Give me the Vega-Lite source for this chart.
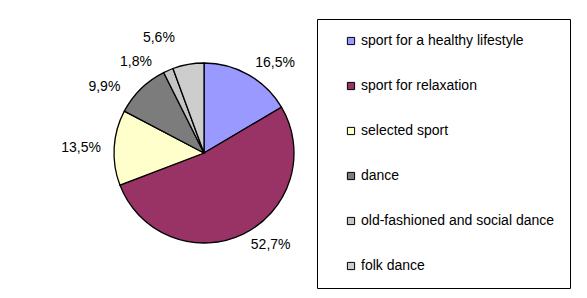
{
  "$schema": "https://vega.github.io/schema/vega-lite/v6.json",
  "width": 408,
  "height": 290,
  "padding": {"left": 0, "top": 8, "right": 0, "bottom": 0},
  "autosize": {"type": "pad"},
  "background": "white",
  "data": {
    "values": [
      {"idx": 1, "cat": "sport for a healthy lifestyle", "share": 16.5, "label": "16,5%"},
      {"idx": 2, "cat": "sport for relaxation", "share": 52.7, "label": "52,7%"},
      {"idx": 3, "cat": "selected sport", "share": 13.5, "label": "13,5%"},
      {"idx": 4, "cat": "dance", "share": 9.9, "label": "9,9%"},
      {"idx": 5, "cat": "old-fashioned and social dance", "share": 1.8, "label": "1,8%"},
      {"idx": 6, "cat": "folk dance", "share": 5.6, "label": "5,6%"}
    ]
  },
  "encoding": {
    "theta": {"field": "share", "type": "quantitative", "stack": true},
    "order": {"field": "idx", "type": "ordinal"}
  },
  "layer": [
    {
      "mark": {"type": "arc", "outerRadius": 90, "stroke": "black", "strokeWidth": 1.3},
      "encoding": {
        "color": {
          "field": "cat", "type": "nominal",
          "scale": {
            "domain": ["sport for a healthy lifestyle", "sport for relaxation", "selected sport", "dance", "old-fashioned and social dance", "folk dance"],
            "range": ["#9999FF", "#993366", "#FFFFCC", "#7c7c7c", "#c4c4c4", "#cdcdcd"]
          },
          "sort": null,
          "legend": {
            "orient": "none", "legendX": 317, "legendY": 11, "title": null,
            "strokeColor": "black", "fillColor": "white", "padding": 15,
            "rowPadding": 31, "symbolType": "square", "symbolSize": 52,
            "symbolOffset": 12,
            "symbolStrokeColor": "black", "symbolStrokeWidth": 1,
            "labelFontSize": 14, "labelFont": "Liberation Sans", "labelColor": "black",
            "labelOffset": 3, "labelLimit": 400
          }
        }
      }
    },
    {
      "mark": {"type": "text", "radius": 114.6, "thetaOffset": 0.15, "font": "Liberation Sans", "fontSize": 14, "color": "black", "align": "center", "baseline": "middle"},
      "encoding": {"text": {"condition": {"test": "datum.idx == 1", "field": "label"}, "value": ""}}
    },
    {
      "mark": {"type": "text", "radius": 113.6, "thetaOffset": -0.178, "font": "Liberation Sans", "fontSize": 14, "color": "black", "align": "center", "baseline": "middle"},
      "encoding": {"text": {"condition": {"test": "datum.idx == 2", "field": "label"}, "value": ""}}
    },
    {
      "mark": {"type": "text", "radius": 123, "thetaOffset": -0.016, "font": "Liberation Sans", "fontSize": 14, "color": "black", "align": "center", "baseline": "middle"},
      "encoding": {"text": {"condition": {"test": "datum.idx == 3", "field": "label"}, "value": ""}}
    },
    {
      "mark": {"type": "text", "radius": 119.4, "thetaOffset": -0.211, "font": "Liberation Sans", "fontSize": 14, "color": "black", "align": "center", "baseline": "middle"},
      "encoding": {"text": {"condition": {"test": "datum.idx == 4", "field": "label"}, "value": ""}}
    },
    {
      "mark": {"type": "text", "radius": 113.8, "thetaOffset": -0.232, "font": "Liberation Sans", "fontSize": 14, "color": "black", "align": "center", "baseline": "middle"},
      "encoding": {"text": {"condition": {"test": "datum.idx == 5", "field": "label"}, "value": ""}}
    },
    {
      "mark": {"type": "text", "radius": 123.8, "thetaOffset": -0.197, "font": "Liberation Sans", "fontSize": 14, "color": "black", "align": "center", "baseline": "middle"},
      "encoding": {"text": {"condition": {"test": "datum.idx == 6", "field": "label"}, "value": ""}}
    }
  ],
  "config": {"view": {"stroke": null}}
}
